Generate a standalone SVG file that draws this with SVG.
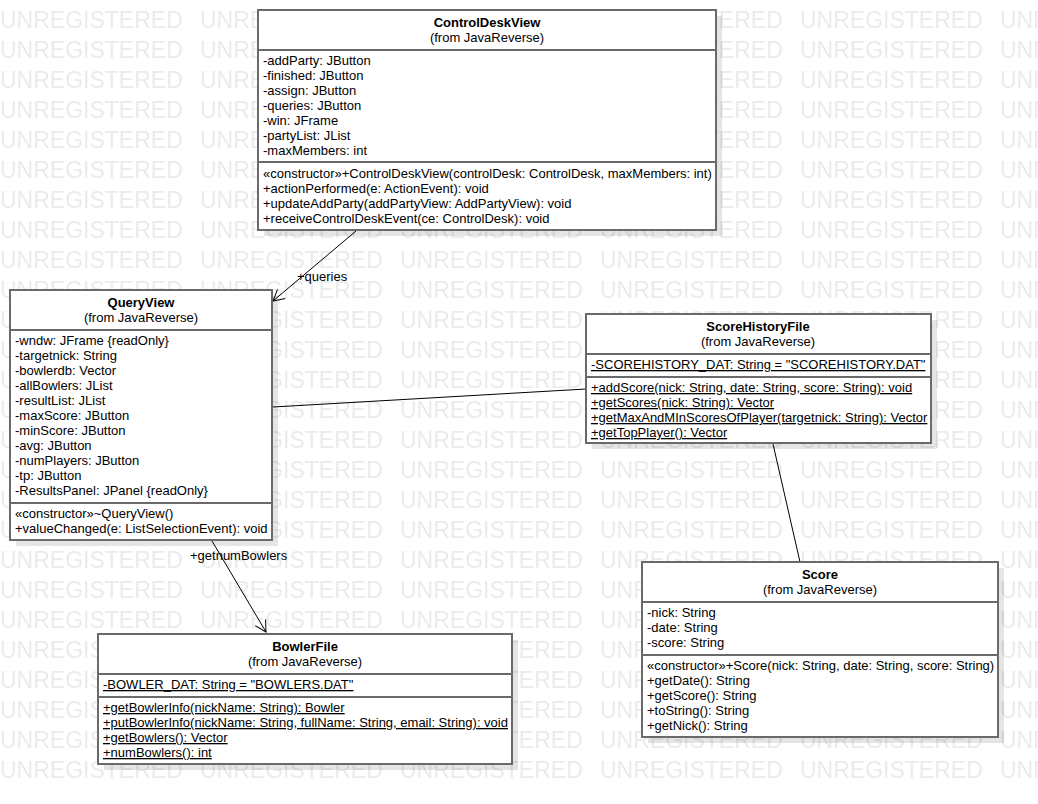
<svg xmlns="http://www.w3.org/2000/svg" width="1038" height="804" viewBox="0 0 1038 804">
<style>
.wm{font-family:"Liberation Sans",Arial,sans-serif;font-size:23px;fill:#ebebeb}
.box{fill:#fff;stroke:#6a6a6a;stroke-width:2}
.sh{fill:#000;fill-opacity:0.1}
.div{stroke:#6a6a6a;stroke-width:2}
.t{font-family:"Liberation Sans",Arial,sans-serif;font-size:13px;fill:#000}
.b{font-weight:bold}
.c{text-anchor:middle}
.u{text-decoration:underline}
.ln{stroke:#000;stroke-width:1;fill:none}
</style>
<defs>
<pattern id="wmp" x="0" y="0" width="200" height="30" patternUnits="userSpaceOnUse">
<text class="wm" x="0" y="28">UNREGISTERED</text>
</pattern>
<marker id="open" markerWidth="14" markerHeight="14" refX="12" refY="7" orient="auto" markerUnits="userSpaceOnUse">
<path d="M1,1 L12,7 L1,13" fill="none" stroke="#000" stroke-width="1"/>
</marker>
</defs>
<rect width="1038" height="804" fill="#fff"/>
<rect x="0" y="0" width="1038" height="780" fill="url(#wmp)"/>

<g id="connectors">
<line class="ln" x1="356" y1="231" x2="273" y2="301" marker-end="url(#open)"/>
<text class="t" x="297" y="281">+queries</text>
<line class="ln" x1="212" y1="541" x2="266" y2="632" marker-end="url(#open)"/>
<text class="t" x="190" y="560">+getnumBowlers</text>
<line class="ln" x1="273" y1="407" x2="586" y2="389"/>
<line class="ln" x1="773" y1="444" x2="800" y2="562"/>
</g>

<g id="ControlDeskView">
<rect class="sh" x="264" y="16" width="458" height="220"/>
<rect class="box" x="258" y="10" width="458" height="220"/>
<line class="div" x1="258" y1="50" x2="716" y2="50"/>
<line class="div" x1="258" y1="162" x2="716" y2="162"/>
<text class="t b c" x="487" y="27">ControlDeskView</text>
<text class="t c" x="487" y="42">(from JavaReverse)</text>
<text class="t" x="263" y="65">-addParty: JButton</text>
<text class="t" x="263" y="80">-finished: JButton</text>
<text class="t" x="263" y="95">-assign: JButton</text>
<text class="t" x="263" y="110">-queries: JButton</text>
<text class="t" x="263" y="125">-win: JFrame</text>
<text class="t" x="263" y="140">-partyList: JList</text>
<text class="t" x="263" y="155">-maxMembers: int</text>
<text class="t" x="263" y="178">«constructor»+ControlDeskView(controlDesk: ControlDesk, maxMembers: int)</text>
<text class="t" x="263" y="193">+actionPerformed(e: ActionEvent): void</text>
<text class="t" x="263" y="208">+updateAddParty(addPartyView: AddPartyView): void</text>
<text class="t" x="263" y="223">+receiveControlDeskEvent(ce: ControlDesk): void</text>
</g>

<g id="QueryView">
<rect class="sh" x="16" y="296" width="262" height="250"/>
<rect class="box" x="10" y="290" width="262" height="250"/>
<line class="div" x1="10" y1="330" x2="272" y2="330"/>
<line class="div" x1="10" y1="503" x2="272" y2="503"/>
<text class="t b c" x="141" y="307">QueryView</text>
<text class="t c" x="141" y="322">(from JavaReverse)</text>
<text class="t" x="15" y="345">-wndw: JFrame {readOnly}</text>
<text class="t" x="15" y="360">-targetnick: String</text>
<text class="t" x="15" y="375">-bowlerdb: Vector</text>
<text class="t" x="15" y="390">-allBowlers: JList</text>
<text class="t" x="15" y="405">-resultList: JList</text>
<text class="t" x="15" y="420">-maxScore: JButton</text>
<text class="t" x="15" y="435">-minScore: JButton</text>
<text class="t" x="15" y="450">-avg: JButton</text>
<text class="t" x="15" y="465">-numPlayers: JButton</text>
<text class="t" x="15" y="480">-tp: JButton</text>
<text class="t" x="15" y="495">-ResultsPanel: JPanel {readOnly}</text>
<text class="t" x="15" y="518">«constructor»~QueryView()</text>
<text class="t" x="15" y="533">+valueChanged(e: ListSelectionEvent): void</text>
</g>

<g id="ScoreHistoryFile">
<rect class="sh" x="592" y="320" width="345" height="129"/>
<rect class="box" x="586" y="314" width="345" height="129"/>
<line class="div" x1="586" y1="354" x2="931" y2="354"/>
<line class="div" x1="586" y1="377" x2="931" y2="377"/>
<text class="t b c" x="758" y="331">ScoreHistoryFile</text>
<text class="t c" x="758" y="346">(from JavaReverse)</text>
<text class="t u" x="591" y="369">-SCOREHISTORY_DAT: String = "SCOREHISTORY.DAT"</text>
<text class="t u" x="591" y="392">+addScore(nick: String, date: String, score: String): void</text>
<text class="t u" x="591" y="407">+getScores(nick: String): Vector</text>
<text class="t u" x="591" y="422">+getMaxAndMInScoresOfPlayer(targetnick: String): Vector</text>
<text class="t u" x="591" y="437">+getTopPlayer(): Vector</text>
</g>

<g id="Score">
<rect class="sh" x="648" y="568" width="356" height="175"/>
<rect class="box" x="642" y="562" width="356" height="175"/>
<line class="div" x1="642" y1="602" x2="998" y2="602"/>
<line class="div" x1="642" y1="655" x2="998" y2="655"/>
<text class="t b c" x="820" y="579">Score</text>
<text class="t c" x="820" y="594">(from JavaReverse)</text>
<text class="t" x="647" y="617">-nick: String</text>
<text class="t" x="647" y="632">-date: String</text>
<text class="t" x="647" y="647">-score: String</text>
<text class="t" x="647" y="670">«constructor»+Score(nick: String, date: String, score: String)</text>
<text class="t" x="647" y="685">+getDate(): String</text>
<text class="t" x="647" y="700">+getScore(): String</text>
<text class="t" x="647" y="715">+toString(): String</text>
<text class="t" x="647" y="730">+getNick(): String</text>
</g>

<g id="BowlerFile">
<rect class="sh" x="104" y="640" width="414" height="130"/>
<rect class="box" x="98" y="634" width="414" height="130"/>
<line class="div" x1="98" y1="674" x2="512" y2="674"/>
<line class="div" x1="98" y1="697" x2="512" y2="697"/>
<text class="t b c" x="305" y="651">BowlerFile</text>
<text class="t c" x="305" y="666">(from JavaReverse)</text>
<text class="t u" x="103" y="689">-BOWLER_DAT: String = "BOWLERS.DAT"</text>
<text class="t u" x="103" y="712">+getBowlerInfo(nickName: String): Bowler</text>
<text class="t u" x="103" y="727">+putBowlerInfo(nickName: String, fullName: String, email: String): void</text>
<text class="t u" x="103" y="742">+getBowlers(): Vector</text>
<text class="t u" x="103" y="757">+numBowlers(): int</text>
</g>
</svg>
